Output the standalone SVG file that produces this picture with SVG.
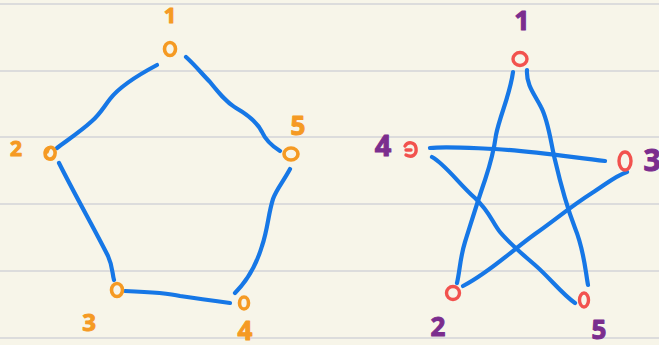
<svg xmlns="http://www.w3.org/2000/svg" width="659" height="345" viewBox="0 0 659 345">
<style>
.rule{stroke:#dcdcdc;stroke-width:2}
.edge{fill:none;stroke:#1677e6;stroke-width:4.2;stroke-linecap:round;stroke-linejoin:round}
.po{fill:none;stroke:#f59a23;stroke-width:3.6;stroke-linecap:round}
.so{fill:none;stroke:#f2524e;stroke-width:3.4;stroke-linecap:round}
.pl{fill:#f59a23;stroke:#f59a23;stroke-width:1;stroke-linejoin:round;font-family:"Open Sans","DejaVu Sans",sans-serif;font-weight:700;text-anchor:middle}
.sl{fill:#7b2d8e;stroke:#7b2d8e;stroke-width:1;stroke-linejoin:round;font-family:"Open Sans","DejaVu Sans",sans-serif;font-weight:700;text-anchor:middle}
</style>
<rect width="659" height="345" fill="#f7f5e9"/>
<g id="rules">
<line class="rule" x1="0" y1="4" x2="659" y2="4"/>
<line class="rule" x1="0" y1="71" x2="659" y2="71"/>
<line class="rule" x1="0" y1="137" x2="659" y2="137"/>
<line class="rule" x1="0" y1="204" x2="659" y2="204"/>
<line class="rule" x1="0" y1="271" x2="659" y2="271"/>
<line class="rule" x1="0" y1="338" x2="659" y2="338"/>
</g>
<g id="connectors">
<path class="edge" d="M157,65 C140,74 120,86 110,99 C103,108 100,114 92,121 C80,132 66,141 57,148"/>
<path class="edge" d="M186,57 C196,66 202,74 210,82 C218,92 226,102 236,108 C250,116 258,124 262,132 C266,141 272,146 280,151"/>
<path class="edge" d="M59,163 C75,195 95,230 108,256 C113,267 112,273 114,280"/>
<path class="edge" d="M125,291 C150,292 168,293 180,296 C200,299 215,301 230,303"/>
<path class="edge" d="M290,169 C283,182 276,190 273,199 C268,215 268,228 262,246 C256,266 246,282 235,293"/>
<path class="edge" d="M513,72 C510,95 500,115 496,135 C494,150 490,165 485,180 C478,200 472,220 465,242 C460,258 460,270 457,283"/>
<path class="edge" d="M527,70 C526,85 535,95 541,107 C549,122 551,145 555,160 C562,190 568,210 575,228 C584,250 585,268 588,285"/>
<path class="edge" d="M430,148 C445,146 470,148 495,149 C530,151 570,157 605,161"/>
<path class="edge" d="M432,157 C445,164 460,185 475,198 C490,212 492,222 500,232 C510,244 520,252 535,265 C550,278 562,294 575,303"/>
<path class="edge" d="M627,172 C615,176 605,185 592,193 C570,207 555,220 535,234 C510,252 490,272 463,286"/>
</g>
<g id="p1"><ellipse class="po" cx="170" cy="49" rx="5.5" ry="6.5"/><text class="pl" x="170" y="23" font-size="22">1</text></g>
<g id="p2"><path class="po" d="M48,148 C44,150 44,158 49,159 C55,160 57,152 53,148 C50,146 48,148 47,152"/><text class="pl" x="16" y="156" font-size="21">2</text></g>
<g id="p3"><ellipse class="po" cx="117" cy="290" rx="5.5" ry="6.5"/><text class="pl" x="89" y="331" font-size="24">3</text></g>
<g id="p4"><ellipse class="po" cx="244" cy="303" rx="4.5" ry="6"/><text class="pl" x="245" y="340" font-size="26">4</text></g>
<g id="p5"><ellipse class="po" cx="291" cy="154" rx="7" ry="6"/><text class="pl" x="298" y="135" font-size="26">5</text></g>
<g id="s1"><ellipse class="so" cx="520" cy="59" rx="7" ry="6.5"/><text class="sl" x="522" y="30" font-size="27">1</text></g>
<g id="s2"><ellipse class="so" cx="453" cy="293" rx="6.5" ry="6.5"/><text class="sl" x="438" y="336" font-size="26">2</text></g>
<g id="s3"><ellipse class="so" cx="625" cy="161" rx="6" ry="9"/><text class="sl" x="652" y="171" font-size="30">3</text></g>
<g id="s4"><path class="so" d="M405,146 C408,141 415,142 416,148 C417,155 412,158 406,155 M406,150 L411,150"/><text class="sl" x="383" y="156" font-size="29">4</text></g>
<g id="s5"><ellipse class="so" cx="584" cy="300" rx="4.5" ry="7"/><text class="sl" x="599" y="339" font-size="26">5</text></g>
</svg>
